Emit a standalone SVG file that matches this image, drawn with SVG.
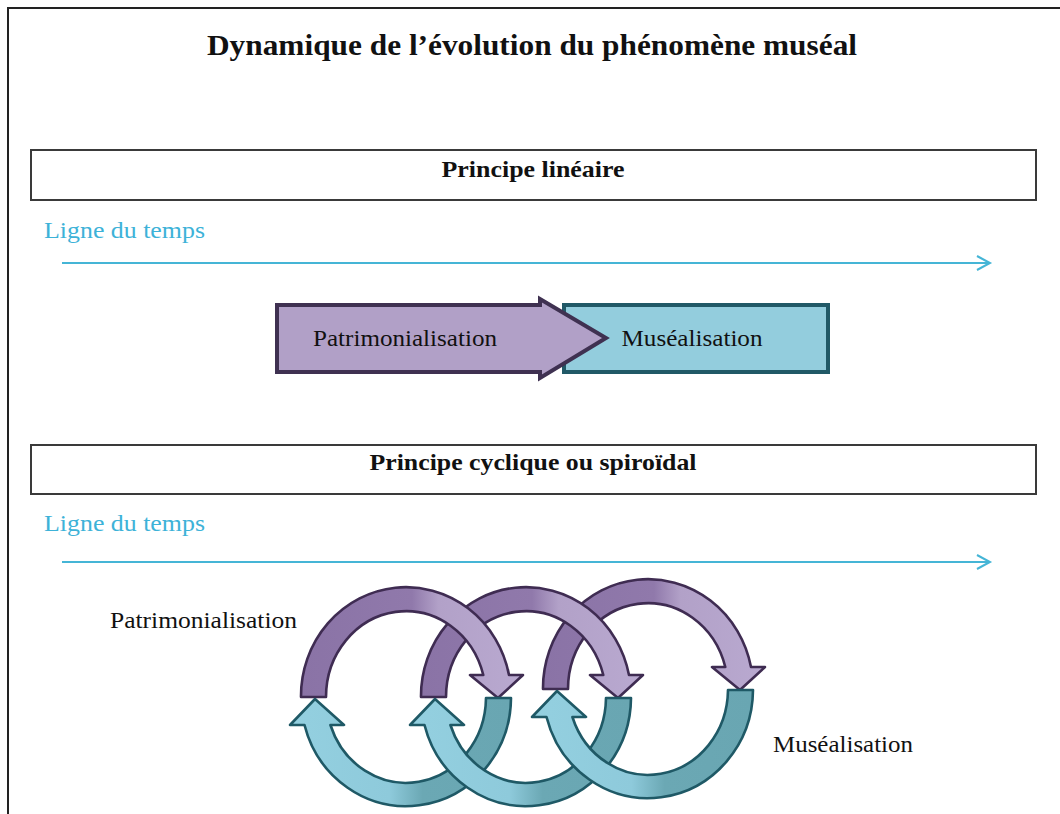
<svg xmlns="http://www.w3.org/2000/svg" width="1060" height="814" viewBox="0 0 1060 814">
<style>
.t{font-family:"Liberation Serif","Times New Roman",serif;fill:#111}
.b{font-weight:bold}
.blue{fill:#3db2d8}
.tl{stroke:#45b5d6;stroke-width:2;fill:none}
.box{fill:#fff;stroke:#3a3a3a;stroke-width:2}
.pur{stroke:#3f2c52;stroke-width:2.6;stroke-linejoin:round}
.teal{stroke:#1f5966;stroke-width:2.6;stroke-linejoin:round}
</style>
<defs>
<linearGradient id="gp" x1="0" y1="0" x2="1" y2="0">
<stop offset="0" stop-color="#8a73a6"/><stop offset="0.5" stop-color="#9079ab"/><stop offset="0.62" stop-color="#b2a1c8"/><stop offset="1" stop-color="#b9a9d0"/>
</linearGradient>
<linearGradient id="gt" x1="0" y1="0" x2="1" y2="0">
<stop offset="0" stop-color="#94d0e0"/><stop offset="0.45" stop-color="#8ecadb"/><stop offset="0.6" stop-color="#6ba8b4"/><stop offset="1" stop-color="#69a6b2"/>
</linearGradient>
</defs>
<rect width="1060" height="814" fill="#fff"/>
<g id="frame" fill="none" stroke="#222" stroke-width="2">
<path d="M8,814 V8 H1060"/>
</g>
<g id="title">
<text class="t b" x="532" y="55" font-size="30" text-anchor="middle" textLength="650" lengthAdjust="spacingAndGlyphs">Dynamique de l’évolution du phénomène muséal</text>
</g>
<g id="box-lineaire">
<rect class="box" x="31" y="150" width="1005" height="50"/>
<text class="t b" x="533" y="177" font-size="23" text-anchor="middle" textLength="183" lengthAdjust="spacingAndGlyphs">Principe linéaire</text>
</g>
<g id="timeline-1">
<text class="t blue" x="44" y="238" font-size="23" textLength="161" lengthAdjust="spacingAndGlyphs">Ligne du temps</text>
<path class="tl" d="M62,263 H989 M977,256 L990,263 L977,270"/>
</g>
<g id="node-musealisation-lin">
<rect x="564" y="305" width="264" height="67" fill="#93cddd" stroke="#215967" stroke-width="4"/>
<text class="t" x="692" y="346" font-size="23" text-anchor="middle" textLength="141" lengthAdjust="spacingAndGlyphs">Muséalisation</text>
</g>
<g id="node-patrimonialisation-lin">
<path d="M277,305 H540 V299 L606,338 L540,378 V372 H277 Z" fill="#b1a0c7" stroke="#3f3151" stroke-width="4" stroke-linejoin="miter"/>
<text class="t" x="405" y="346" font-size="23" text-anchor="middle" textLength="184" lengthAdjust="spacingAndGlyphs">Patrimonialisation</text>
</g>
<g id="box-cyclique">
<rect class="box" x="31" y="445" width="1005" height="49"/>
<text class="t b" x="533" y="470" font-size="23" text-anchor="middle" textLength="327" lengthAdjust="spacingAndGlyphs">Principe cyclique ou spiroïdal</text>
</g>
<g id="timeline-2">
<text class="t blue" x="44" y="531" font-size="23" textLength="161" lengthAdjust="spacingAndGlyphs">Ligne du temps</text>
<path class="tl" d="M62,562 H989 M977,555 L990,562 L977,569"/>
</g>
<g id="label-patrimonialisation-cyc">
<text class="t" x="110" y="628" font-size="23" textLength="187" lengthAdjust="spacingAndGlyphs">Patrimonialisation</text>
</g>
<g id="label-musealisation-cyc">
<text class="t" x="773" y="752" font-size="23" textLength="140" lengthAdjust="spacingAndGlyphs">Muséalisation</text>
</g>
<g id="connectors">
<g id="loops-purple" fill="url(#gp)">
<path class="pur" d="M543,689 A105 109 0 0 1 751,667 L765,667 L740,690 L712,667 L725.3,667 A80 86 0 0 0 568,689 Z"/>
<path class="pur" d="M421,697 A105 109 0 0 1 629,675 L643,675 L618,698 L590,675 L603.3,675 A80 86 0 0 0 446,697 Z"/>
<path class="pur" d="M301,697 A105 109 0 0 1 509,675 L523,675 L498,698 L470,675 L483.3,675 A80 86 0 0 0 326,697 Z"/>
</g>
<g id="loops-teal" fill="url(#gt)">
<path class="teal" d="M511,698 A105 109 0 0 1 304.5,725 L290,725 L315,699 L344,725 L330.4,725 A80 86 0 0 0 486,698 Z"/>
<path class="teal" d="M631,698 A105 109 0 0 1 424.5,725 L410,725 L435,699 L464,725 L450.4,725 A80 86 0 0 0 606,698 Z"/>
<path class="teal" d="M753,690 A105 109 0 0 1 546.5,717 L532,717 L557,691 L586,717 L572.4,717 A80 86 0 0 0 728,690 Z"/>
</g>
</g>
</svg>
